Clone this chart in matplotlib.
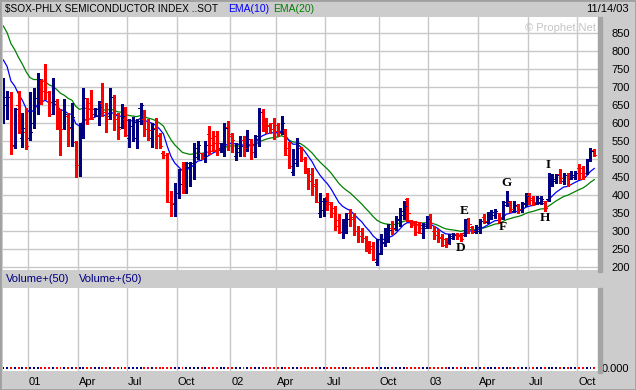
import matplotlib
matplotlib.use('Agg')
import matplotlib.pyplot as plt
import matplotlib.transforms as mtransforms
from matplotlib.patches import Rectangle
import numpy as np
import pandas as pd

plt.rcParams['font.family'] = ['Liberation Sans', 'DejaVu Sans']

# weekly bars (week start dates), last week ends 11/14/03
dates = pd.date_range('2000-11-20', periods=156, freq='7D')

opens = [625, 650, 674, 540, 650, 560, 577, 560, 600, 669, 722, 690, 686, 625, 662, 611, 583, 620, 590, 548,
         484, 594, 669, 655, 625, 620, 657, 630, 620, 674, 625, 590, 611, 560, 593, 560, 643, 611, 583, 560,
         588, 565, 518, 511, 381, 375, 407, 430, 421, 479, 489, 505, 518, 505, 571, 560, 565, 532, 530, 590,
         565, 510, 520, 554, 530, 541, 520, 565, 630, 611, 595, 600, 595, 575, 580, 530, 465, 490, 530, 500,
         465, 460, 430, 350, 360, 395, 375, 365, 330, 298, 305, 350, 340, 300, 300, 280, 265, 260, 215, 240,
         270, 280, 310, 310, 330, 345, 390, 328, 325, 320, 295, 315, 335, 300, 300, 285, 279, 270, 280, 292,
         290, 290, 335, 312, 298, 300, 340, 325, 340, 345, 350, 335, 372, 380, 355, 370, 358, 375, 400, 392,
         378, 382, 383, 390, 430, 440, 460, 440, 455, 445, 450, 475, 475, 462, 498, 525]
highs = [727, 690, 687, 643, 690, 628, 643, 687, 699, 739, 722, 764, 690, 727, 667, 639, 667, 628, 656, 551,
         602, 697, 669, 693, 643, 662, 711, 656, 699, 678, 628, 653, 646, 611, 616, 611, 657, 637, 611, 602,
         614, 574, 523, 518, 412, 435, 474, 491, 493, 491, 544, 551, 518, 551, 591, 579, 579, 544, 600, 606,
         574, 544, 565, 565, 581, 556, 568, 641, 639, 614, 600, 614, 602, 620, 583, 548, 528, 559, 535, 507,
         477, 477, 444, 406, 393, 406, 380, 370, 347, 333, 350, 363, 352, 315, 310, 287, 273, 269, 278, 292,
         310, 319, 329, 343, 366, 384, 393, 330, 329, 326, 324, 343, 347, 315, 307, 292, 282, 292, 294, 296,
         296, 335, 336, 315, 318, 333, 347, 354, 359, 363, 352, 384, 412, 384, 384, 375, 380, 407, 407, 398,
         398, 398, 384, 461, 458, 458, 472, 461, 461, 467, 467, 486, 481, 500, 532, 528]
lows = [602, 611, 514, 532, 574, 534, 528, 554, 588, 625, 653, 667, 620, 625, 583, 511, 583, 537, 537, 452,
        454, 560, 597, 611, 620, 594, 620, 576, 611, 581, 557, 588, 565, 535, 551, 530, 597, 565, 554, 535,
        530, 530, 504, 381, 343, 343, 393, 407, 407, 426, 446, 500, 502, 493, 514, 523, 511, 520, 509, 526,
        520, 498, 509, 509, 523, 500, 505, 537, 579, 574, 574, 556, 565, 569, 511, 477, 456, 481, 495, 463,
        417, 400, 380, 341, 343, 359, 341, 304, 296, 282, 296, 315, 291, 269, 271, 245, 241, 220, 205, 236,
        259, 270, 292, 304, 315, 333, 329, 313, 289, 296, 282, 310, 310, 278, 270, 259, 257, 264, 278, 278,
        273, 287, 296, 296, 296, 296, 322, 324, 333, 338, 324, 333, 370, 354, 354, 352, 354, 370, 375, 372,
        375, 375, 357, 384, 426, 435, 433, 431, 426, 444, 444, 446, 446, 458, 495, 509]
closes = [672, 674, 537, 639, 580, 588, 537, 577, 669, 722, 690, 686, 625, 662, 611, 583, 625, 588, 616, 484,
          560, 669, 639, 611, 639, 645, 630, 611, 674, 611, 585, 620, 567, 593, 604, 606, 650, 583, 580, 585,
          568, 537, 511, 381, 378, 407, 430, 421, 489, 490, 530, 540, 505, 540, 540, 545, 546, 541, 587, 569,
          554, 530, 537, 530, 556, 520, 565, 630, 594, 592, 585, 579, 574, 600, 511, 481, 500, 544, 502, 470,
          440, 426, 382, 384, 384, 380, 350, 315, 298, 320, 333, 335, 300, 287, 282, 250, 250, 224, 236, 267,
          287, 304, 306, 333, 357, 370, 352, 318, 298, 310, 310, 333, 322, 289, 280, 261, 265, 287, 290, 287,
          278, 333, 320, 300, 312, 329, 329, 344, 354, 355, 333, 381, 385, 361, 372, 361, 378, 398, 386, 380,
          392, 391, 366, 440, 444, 456, 449, 456, 430, 456, 463, 463, 461, 495, 523, 511]
volume = [0] * 156

# EMA values at the first bar
ema10_start = 776
ema20_start = 870

price_ticks = list(range(200, 851, 50))
quarter_labels = ['01', 'Apr', 'Jul', 'Oct', '02', 'Apr', 'Jul', 'Oct', '03', 'Apr', 'Jul', 'Oct']

# pattern letters: (letter, bar index, side)
marks = [('D', 120, 'low'), ('E', 121, 'high'), ('F', 131, 'low'),
         ('G', 132, 'high'), ('H', 142, 'low'), ('I', 143, 'high')]


def ema(vals, n, start):
    a = 2.0 / (n + 1)
    out = [start]
    for v in vals[1:]:
        out.append(out[-1] + a * (v - out[-1]))
    return np.array(out)


x = np.arange(len(closes))
ema10 = ema(closes, 10, ema10_start)
ema20 = ema(closes, 20, ema20_start)

# quarter gridlines: just after the first bar of the month
qpos = []
for yr in (2001, 2002, 2003):
    for m in (1, 4, 7, 10):
        idx = int(np.argmax((dates.year == yr) & (dates.month == m)))
        qpos.append(idx + 0.5)

W, H = 636, 390
bg = '#cccccc'
fig = plt.figure(figsize=(W / 100, H / 100), dpi=100, facecolor=bg)


def box(l, t, r, b):
    return [l / W, 1 - b / H, (r - l) / W, (b - t) / H]


ax = fig.add_axes(box(2.5, 17, 597.7, 270))
axv = fig.add_axes(box(2.5, 288, 597.7, 371))

# darker frame strips
fig.patches.append(Rectangle((597.7 / W, 1 - 272 / H), 4 / W, 255 / H, transform=fig.transFigure,
                             color='#a4a4a4', zorder=0))
fig.patches.append(Rectangle((597.7 / W, 1 - 373 / H), 4 / W, 85 / H, transform=fig.transFigure,
                             color='#a4a4a4', zorder=0))
fig.patches.append(Rectangle((0, 0), 1, 1, transform=fig.transFigure, fill=False,
                             edgecolor='#a0a0a0', lw=2, zorder=0))

cols = ['#ff0000' if c < o else '#000080' for o, c in zip(opens, closes)]

# price panel
ax.set_facecolor('white')
ax.vlines(x, lows, highs, colors=cols, lw=1.0, antialiased=False, zorder=3)
ax.hlines(opens, x - 0.55, x, colors=cols, lw=0.7, antialiased=False, zorder=3)
ax.hlines(closes, x, x + 0.55, colors=cols, lw=0.7, antialiased=False, zorder=3)
ax.plot(x, ema20, color='#008000', lw=0.9, zorder=2)
ax.plot(x, ema10, color='#0000ff', lw=0.9, zorder=2)

for lbl, i, side in marks:
    if side == 'low':
        ax.annotate(lbl, (i, lows[i]), xytext=(0, -1), textcoords='offset points',
                    ha='center', va='top', fontsize=9.5, fontweight='bold',
                    family='Liberation Serif', zorder=4)
    else:
        ax.annotate(lbl, (i, highs[i]), xytext=(0, 1.5), textcoords='offset points',
                    ha='center', va='bottom', fontsize=9.5, fontweight='bold',
                    family='Liberation Serif', zorder=4)

ax.text(0.997, 0.975, '\u00a9 Prophet.Net', transform=ax.transAxes, ha='right', va='top',
        fontsize=8, color='#c4c4c4')

ax.set_xlim(-0.21, 155.89)
ax.set_ylim(192.5, 895)
ax.set_yticks(price_ticks)
ax.set_xticks(qpos)
ax.set_xticklabels([])
ax.yaxis.tick_right()
ax.tick_params(axis='y', length=0, pad=10, labelsize=8)
ax.tick_params(axis='x', length=0)
ax.grid(True, color='#c8c8c8', lw=1, zorder=0)
ax.set_axisbelow(True)
for s in ax.spines.values():
    s.set_visible(False)

# volume panel
axv.set_facecolor('white')
axv.scatter(x, volume, c=cols, s=2, marker='s', lw=0, zorder=3)
axv.set_xlim(-0.21, 155.89)
axv.set_ylim(-4, 100)
axv.set_yticks([0])
axv.set_yticklabels(['0.000'], color='black')
axv.yaxis.tick_right()
axv.yaxis.set_label_position('right')
axv.tick_params(axis='y', which='both', left=False, right=True, labelleft=False, labelright=True,
                length=0, pad=3, labelsize=8)
axv.set_xticks(qpos)
axv.set_xticklabels(quarter_labels, ha='left')
axv.tick_params(axis='x', length=0, pad=4, labelsize=8)
off = mtransforms.ScaledTranslation(1 / 100, 0, fig.dpi_scale_trans)
for t in axv.get_xticklabels():
    t.set_transform(t.get_transform() + off)
axv.grid(True, axis='x', color='#c8c8c8', lw=1, zorder=0)
for s in axv.spines.values():
    s.set_visible(False)

# header texts
fig.text(5 / W, 1 - 9 / H, '$SOX-PHLX SEMICONDUCTOR INDEX ..SOT', fontsize=7.3, va='center')
fig.text(228 / W, 1 - 9 / H, 'EMA(10)', fontsize=7.5, va='center', color='#0000ff')
fig.text(273 / W, 1 - 9 / H, 'EMA(20)', fontsize=7.5, va='center', color='#008000')
fig.text(629 / W, 1 - 9 / H, '11/14/03', fontsize=8, va='center', ha='right')
fig.text(6 / W, 1 - 279 / H, 'Volume+(50)', fontsize=8, va='center', color='#000080')
fig.text(79 / W, 1 - 279 / H, 'Volume+(50)', fontsize=8, va='center', color='#000080')

fig.savefig('out.png', dpi=100, facecolor=bg)
